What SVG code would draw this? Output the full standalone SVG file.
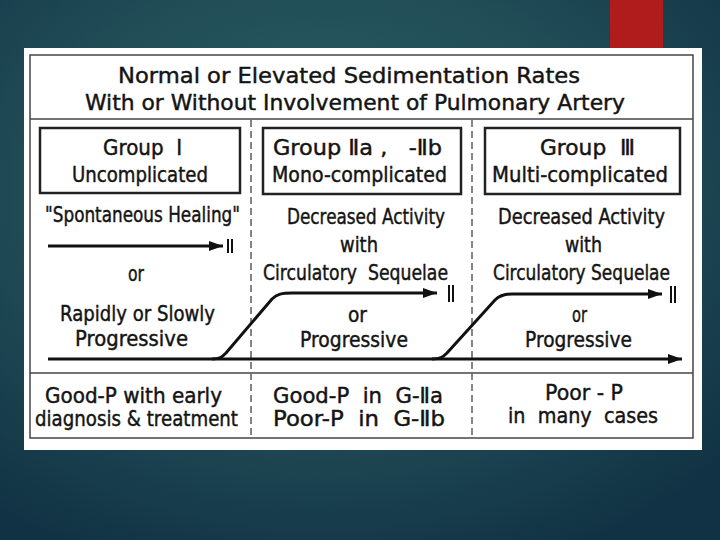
<svg xmlns="http://www.w3.org/2000/svg" width="720" height="540" viewBox="0 0 720 540">
<defs>
<radialGradient id="bg" cx="0.45" cy="0.35" r="0.75">
<stop offset="0" stop-color="#2d6266"/>
<stop offset="0.55" stop-color="#204c56"/>
<stop offset="1" stop-color="#113244"/>
</radialGradient>
<marker id="ah" viewBox="0 0 14 10" markerUnits="userSpaceOnUse" markerWidth="14" markerHeight="10" refX="14" refY="5" orient="auto">
<path d="M0,0 L14,5 L0,10 z" fill="#111"/>
</marker>
<style>
text{font-family:"DejaVu Sans","Liberation Sans",sans-serif;fill:#141414;stroke:#141414;stroke-width:0.45;font-size:21px;white-space:pre}
.t{font-size:22px}
.box{fill:none;stroke:#222;stroke-width:2.5}
.sep{stroke:#444;stroke-width:1.5;fill:none}
.dash{stroke:#666;stroke-width:1.6;stroke-dasharray:7 4;fill:none}
.arr{stroke:#111;stroke-width:3;fill:none;marker-end:url(#ah)}
.bar{stroke:#111;stroke-width:2}
</style>
</defs>
<rect width="720" height="540" fill="url(#bg)"/>
<rect x="610" y="0" width="53" height="48" fill="#b01c1c"/>
<rect x="24" y="48" width="678" height="402" fill="#fff"/>
<rect x="30" y="55" width="663" height="383" class="sep"/>
<line x1="30" y1="119" x2="693" y2="119" class="sep"/>
<line x1="30" y1="373" x2="693" y2="373" class="sep" stroke="#777"/>
<line x1="251" y1="120" x2="251" y2="438" class="dash"/>
<line x1="472" y1="120" x2="472" y2="438" class="dash"/>

<g id="title">
<text class="t" x="118" y="83" textLength="462" lengthAdjust="spacingAndGlyphs">Normal or Elevated Sedimentation Rates</text>
<text class="t" x="85" y="110" textLength="540" lengthAdjust="spacingAndGlyphs">With or Without Involvement of Pulmonary Artery</text>
</g>

<g id="group1">
<rect x="40" y="128" width="200" height="65" class="box"/>
<text x="103" y="155" textLength="79" lengthAdjust="spacingAndGlyphs">Group  Ⅰ</text>
<text x="72" y="182" textLength="136" lengthAdjust="spacingAndGlyphs">Uncomplicated</text>
</g>
<g id="group2">
<rect x="263" y="128" width="198" height="66" class="box"/>
<text x="273" y="155" textLength="169" lengthAdjust="spacingAndGlyphs">Group Ⅱa ,   -Ⅱb</text>
<text x="272" y="182" textLength="175" lengthAdjust="spacingAndGlyphs">Mono-complicated</text>
</g>
<g id="group3">
<rect x="485" y="128" width="195" height="66" class="box"/>
<text x="540" y="155" textLength="95" lengthAdjust="spacingAndGlyphs">Group  Ⅲ</text>
<text x="492" y="182" textLength="176" lengthAdjust="spacingAndGlyphs">Multi-complicated</text>
</g>

<g id="col1">
<text x="45" y="222" textLength="195" lengthAdjust="spacingAndGlyphs">"Spontaneous Healing"</text>
<text x="128" y="281" textLength="16" lengthAdjust="spacingAndGlyphs">or</text>
<text x="60" y="321" textLength="155" lengthAdjust="spacingAndGlyphs">Rapidly or Slowly</text>
<text x="75" y="346" textLength="113" lengthAdjust="spacingAndGlyphs">Progressive</text>
</g>
<g id="col2">
<text x="287" y="224" textLength="158" lengthAdjust="spacingAndGlyphs">Decreased Activity</text>
<text x="340" y="252" textLength="38" lengthAdjust="spacingAndGlyphs">with</text>
<text x="263" y="280" textLength="185" lengthAdjust="spacingAndGlyphs">Circulatory  Sequelae</text>
<text x="348" y="322" textLength="19" lengthAdjust="spacingAndGlyphs">or</text>
<text x="300" y="347" textLength="108" lengthAdjust="spacingAndGlyphs">Progressive</text>
</g>
<g id="col3">
<text x="498" y="224" textLength="167" lengthAdjust="spacingAndGlyphs">Decreased Activity</text>
<text x="565" y="252" textLength="37" lengthAdjust="spacingAndGlyphs">with</text>
<text x="493" y="280" textLength="177" lengthAdjust="spacingAndGlyphs">Circulatory Sequelae</text>
<text x="572" y="322" textLength="15" lengthAdjust="spacingAndGlyphs">or</text>
<text x="525" y="347" textLength="107" lengthAdjust="spacingAndGlyphs">Progressive</text>
</g>

<g id="outcome1">
<text x="45" y="403" textLength="177" lengthAdjust="spacingAndGlyphs">Good-P with early</text>
<text x="35" y="426" textLength="203" lengthAdjust="spacingAndGlyphs">diagnosis &amp; treatment</text>
</g>
<g id="outcome2">
<text x="273" y="403" textLength="170" lengthAdjust="spacingAndGlyphs">Good-P  in  G-Ⅱa</text>
<text x="273" y="426" textLength="172" lengthAdjust="spacingAndGlyphs">Poor-P  in  G-Ⅱb</text>
</g>
<g id="outcome3">
<text x="545" y="400" textLength="78" lengthAdjust="spacingAndGlyphs">Poor - P</text>
<text x="508" y="423" textLength="150" lengthAdjust="spacingAndGlyphs">in  many  cases</text>
</g>

<g id="connectors">
<line x1="48" y1="246" x2="223" y2="246" class="arr"/>
<line x1="228" y1="239" x2="228" y2="253" class="bar"/>
<line x1="232" y1="239" x2="232" y2="253" class="bar"/>
<line x1="48" y1="359" x2="682" y2="359" class="arr"/>
<path d="M212,359 C220,359 222,357 226,353 L272,299 C277,294 282,293 292,293 L437,293" class="arr"/>
<line x1="449" y1="285" x2="449" y2="302" class="bar"/>
<line x1="453" y1="285" x2="453" y2="302" class="bar"/>
<path d="M432,359 C440,359 443,357 447,353 L495,300 C500,295 505,294 512,294 L662,294" class="arr"/>
<line x1="671" y1="286" x2="671" y2="303" class="bar"/>
<line x1="675" y1="286" x2="675" y2="303" class="bar"/>
</g>
</svg>
